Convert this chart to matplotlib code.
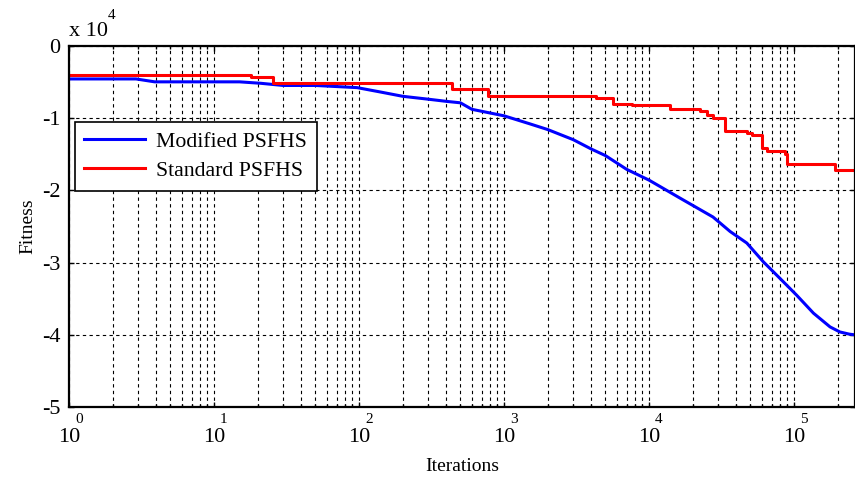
import numpy as np
import matplotlib
matplotlib.use('Agg')
import matplotlib.pyplot as plt
import matplotlib.transforms as mtransforms
from matplotlib.ticker import LogLocator, NullFormatter, FixedLocator

plt.rcParams['font.family'] = ['Liberation Serif', 'DejaVu Serif']
plt.rcParams['axes.unicode_minus'] = False

# fitness in units of 1e4
mod_iter = [1, 2.9, 3.9, 15, 21, 30, 50, 97, 140, 200, 300, 400, 500, 600,
            1000, 1500, 2000, 3000, 4000, 5000, 7000, 10000, 16400, 27600,
            36200, 47200, 61400, 80000, 104000, 136000, 177000, 207000,
            240000, 263000]
mod_fit = [-0.46, -0.46, -0.50, -0.50, -0.52, -0.55, -0.55, -0.58, -0.64,
           -0.70, -0.74, -0.77, -0.79, -0.88, -0.97, -1.08, -1.16, -1.30,
           -1.43, -1.52, -1.71, -1.86, -2.11, -2.37, -2.57, -2.73, -2.99,
           -3.22, -3.45, -3.70, -3.89, -3.96, -3.99, -4.00]

std_iter = [1, 18, 25.5, 437, 776, 4310, 5650, 7630, 13960, 22480, 25100,
            27620, 33420, 47400, 51300, 60200, 65100, 86700, 89500, 191800,
            263000]
std_fit = [-0.40, -0.43, -0.52, -0.60, -0.69, -0.73, -0.80, -0.82, -0.88,
           -0.91, -0.96, -1.00, -1.18, -1.21, -1.24, -1.42, -1.45, -1.50,
           -1.63, -1.72, -1.72]

x_ticks = [1, 10, 100, 1000, 1e4, 1e5]
x_exps = ['0', '1', '2', '3', '4', '5']
y_ticks = [0, -1, -2, -3, -4, -5]
y_labels = ['0', '-1', '-2', '-3', '-4', '-5']

fig = plt.figure(figsize=(8.55, 4.79), dpi=100)
ax = fig.add_axes([0.0807, 0.150, 0.9193, 0.7546])

ax.plot(mod_iter, mod_fit, color=(0, 0, 1), lw=2.2, label='Modified PSFHS')
ax.plot(std_iter, std_fit, color=(1, 0, 0), lw=2.2, drawstyle='steps-post',
        label='Standard PSFHS')

ax.set_xscale('log')
ax.set_xlim(1, 263000)
ax.set_ylim(-5, 0)

ax.xaxis.set_major_locator(FixedLocator(x_ticks))
ax.set_xticklabels(['10'] * len(x_ticks))
ax.xaxis.set_minor_locator(LogLocator(base=10, subs=np.arange(2, 10), numticks=20))
ax.xaxis.set_minor_formatter(NullFormatter())
ax.set_yticks(y_ticks)
ax.set_yticklabels(y_labels)

ax.grid(True, which='major', color='black', linestyle=(0, (3, 3)), lw=0.8)
ax.grid(True, which='minor', axis='x', color='black', linestyle=(0, (3, 3)), lw=0.8)

ax.tick_params(axis='both', which='both', direction='in', top=True, right=True,
               labelsize=16, width=1)
ax.tick_params(axis='x', pad=15)
ax.tick_params(axis='y', pad=6)
for s in ax.spines.values():
    s.set_linewidth(1.6)

# exponents of the log tick labels
trans = mtransforms.blended_transform_factory(ax.transData, ax.transAxes)
for xt, e in zip(x_ticks, x_exps):
    ax.annotate(e, xy=(xt, 0), xycoords=trans, xytext=(7, -9),
                textcoords='offset points', fontsize=11, ha='center',
                va='center', annotation_clip=False)

# multiplier
ax.text(0.0, 1.012, 'x 10', transform=ax.transAxes, fontsize=16,
        ha='left', va='bottom')
ax.annotate('4', xy=(0, 1), xycoords='axes fraction', xytext=(31, 22),
            textcoords='offset points', fontsize=11, ha='center', va='center')

ax.set_xlabel('Iterations', fontsize=14, labelpad=8)
ax.set_ylabel('Fitness', fontsize=14)

leg = ax.legend(loc='upper left', bbox_to_anchor=(0.007, 0.79), fontsize=15.7,
                fancybox=False, framealpha=1, edgecolor='black',
                handlelength=2.8, handletextpad=0.5, labelspacing=0.42,
                borderaxespad=0, borderpad=0.45)
leg.get_frame().set_linewidth(1.2)

fig.savefig('out.png', dpi=100)
